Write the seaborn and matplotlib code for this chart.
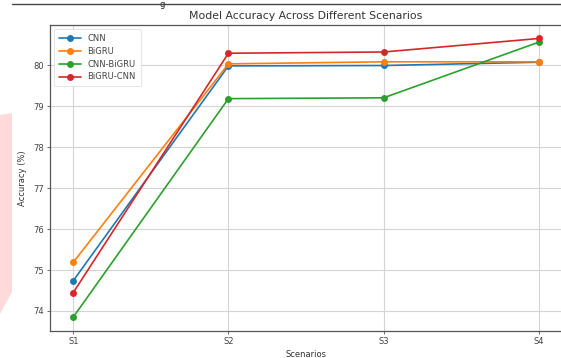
import numpy as np
import pandas as pd
import matplotlib
matplotlib.use("Agg")
import matplotlib.pyplot as plt
from matplotlib.patches import Polygon
from matplotlib.lines import Line2D
import seaborn as sns

# ── Data ─────────────────────────────────────────────
scenarios = ["S1", "S2", "S3", "S4"]
cnn       = [74.74, 79.99, 80.00, 80.08]
bigru     = [75.19, 80.04, 80.09, 80.09]
cnn_bigru = [73.85, 79.19, 79.21, 80.57]
bigru_cnn = [74.45, 80.30, 80.33, 80.66]
models    = ["CNN", "BiGRU", "CNN-BiGRU", "BiGRU-CNN"]
y_ticks   = [74, 75, 76, 77, 78, 79, 80]

df = pd.DataFrame({
    "Scenario": scenarios * 4,
    "Accuracy": cnn + bigru + cnn_bigru + bigru_cnn,
    "Model": np.repeat(models, len(scenarios)),
})

sns.set_theme(style="ticks")
plt.rcParams["font.family"] = ["DejaVu Sans"]

W, H = 561, 358
fig = plt.figure(figsize=(W / 100, H / 100), dpi=100)
ax = fig.add_axes([50 / W, (H - 331) / H, 512 / W, 306 / H])

palette = sns.color_palette("tab10", 4)
sns.lineplot(data=df, x="Scenario", y="Accuracy", hue="Model",
             palette=palette, marker="o", markersize=5,
             markeredgewidth=0, linewidth=1.2, sort=False, ax=ax)

ax.set_ylim(73.51, 80.99)
ax.set_yticks(y_ticks)
ax.grid(True, color="#d4d4d4", linewidth=0.8)
ax.tick_params(labelsize=6, length=2.5, width=0.6, colors="#555555",
               labelcolor="#444444", pad=2)
for s in ax.spines.values():
    s.set_linewidth(0.9)
    s.set_color("#555555")

ax.set_title("Model Accuracy Across Different Scenarios", fontsize=7.8,
             color="#333333", pad=4)
ax.set_xlabel("Scenarios", fontsize=6, color="#333333", labelpad=3)
ax.set_ylabel("Accuracy (%)", fontsize=6, color="#333333", labelpad=4)

leg = ax.legend(loc="upper left", fontsize=6, frameon=True,
                handlelength=2.6, borderpad=0.6, labelspacing=0.45,
                framealpha=0.9, edgecolor="#dddddd", fancybox=True)
leg.get_frame().set_linewidth(0.6)
for t in leg.get_texts():
    t.set_color("#444444")

# ── page remnants: top rule, caption glyph, pink watermark ──
fig.add_artist(Line2D([12, W], [H - 3.5, H - 3.5], transform=None,
                      color="#444444", linewidth=1.0, zorder=10))
fig.text(162 / W, 1, "g", fontsize=6, color="#222222",
         ha="center", va="top")
pts = [(0, 115), (12, 113), (12, 292), (0, 314)]
fig.patches.append(Polygon([(x / W, 1 - y / H) for x, y in pts], closed=True,
                           transform=fig.transFigure, facecolor="#ffdada",
                           edgecolor="none"))

fig.savefig("out.png", dpi=100)
